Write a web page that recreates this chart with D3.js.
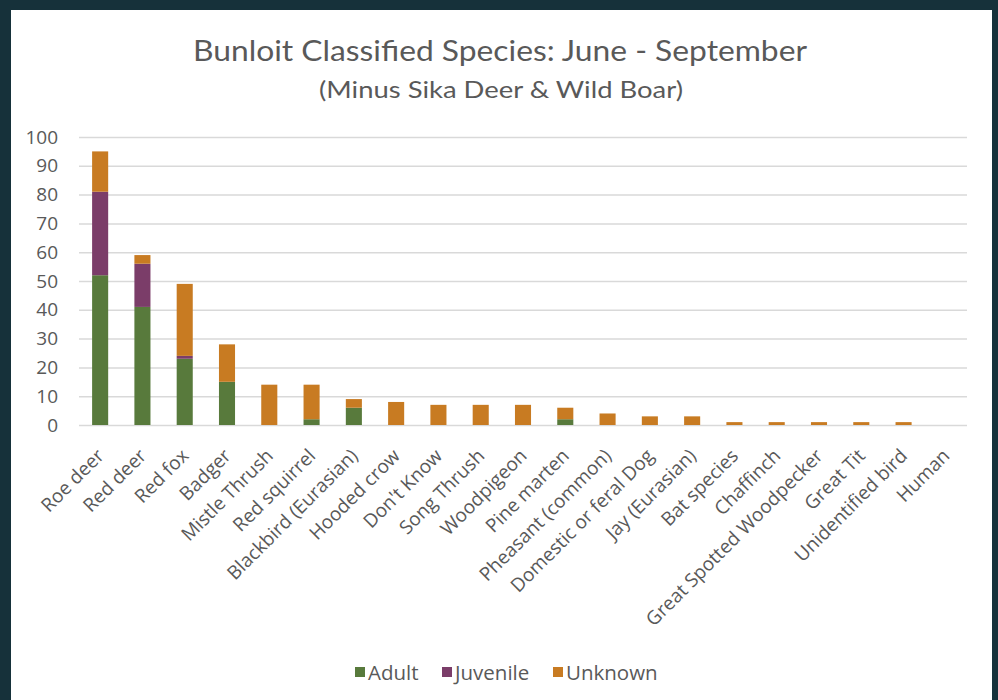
<!DOCTYPE html>
<html>
<head>
<meta charset="utf-8">
<script src="https://cdn.jsdelivr.net/npm/d3@7"></script>
<style>
  html, body { margin: 0; padding: 0; background: #16313a; }
  svg { display: block; }
</style>
</head>
<body>
<svg id="chart" width="998" height="700"></svg>
<script>
// Species recorded by the Bunloit camera traps, June - September
const categories = [
  "Roe deer", "Red deer", "Red fox", "Badger", "Mistle Thrush", "Red squirrel",
  "Blackbird (Eurasian)", "Hooded crow", "Don't Know", "Song Thrush", "Woodpigeon",
  "Pine marten", "Pheasant (common)", "Domestic or feral Dog", "Jay (Eurasian)",
  "Bat species", "Chaffinch", "Great Spotted Woodpecker", "Great Tit",
  "Unidentified bird", "Human"
];
const adult    = [52, 41, 23, 15, 0, 2, 6, 0, 0, 0, 0, 2, 0, 0, 0, 0, 0, 0, 0, 0, 0];
const juvenile = [29, 15, 1, 0, 0, 0, 0, 0, 0, 0, 0, 0, 0, 0, 0, 0, 0, 0, 0, 0, 0];
const unknown  = [14, 3, 25, 13, 14, 12, 3, 8, 7, 7, 7, 4, 4, 3, 3, 1, 1, 1, 1, 1, 0];
const seriesNames = ["Adult", "Juvenile", "Unknown"];
const seriesColors = ["#587a3c", "#7b3d69", "#c87b22"];
const yTicks = [0, 10, 20, 30, 40, 50, 60, 70, 80, 90, 100];

const svg = d3.select("#chart");
const W = 998, H = 700;
const textColor = "#595959";

// dark frame and white chart panel
svg.append("rect").attr("width", W).attr("height", H).attr("fill", "#16313a");
svg.append("rect").attr("x", 11).attr("y", 10).attr("width", 981).attr("height", 690).attr("fill", "#ffffff");

const plot = { left: 79, right: 967, top: 137, bottom: 425 };

const x = d3.scaleBand()
  .domain(categories)
  .range([plot.left, plot.right])
  .paddingInner(0.62)
  .paddingOuter(0.31);

const y = d3.scaleLinear()
  .domain([0, 100])
  .range([plot.bottom, plot.top]);

// titles
svg.append("text")
  .attr("x", 500).attr("y", 61)
  .attr("text-anchor", "middle")
  .attr("font-family", "Lato, 'Open Sans', sans-serif")
  .attr("font-size", 28)
  .attr("fill", textColor)
  .attr("textLength", 614)
  .attr("lengthAdjust", "spacingAndGlyphs")
  .text("Bunloit Classified Species: June - September");

svg.append("text")
  .attr("x", 501).attr("y", 98)
  .attr("text-anchor", "middle")
  .attr("font-family", "Lato, 'Open Sans', sans-serif")
  .attr("font-size", 24)
  .attr("fill", textColor)
  .attr("textLength", 364)
  .attr("lengthAdjust", "spacingAndGlyphs")
  .text("(Minus Sika Deer & Wild Boar)");

// horizontal gridlines
const yAxis = d3.axisLeft(y)
  .tickValues(yTicks)
  .tickSize(-(plot.right - plot.left))
  .tickPadding(21)
  .tickFormat(d3.format("d"));

const gy = svg.append("g")
  .attr("transform", `translate(${plot.left},0)`)
  .call(yAxis);
gy.select(".domain").remove();
gy.selectAll(".tick line").attr("stroke", "#d9d9d9").attr("stroke-width", 1.5);
gy.selectAll(".tick text")
  .attr("font-family", "'Open Sans', sans-serif")
  .attr("font-size", 19)
  .attr("fill", textColor);

// stacked bars
const rows = categories.map((c, i) => ({ category: c, Adult: adult[i], Juvenile: juvenile[i], Unknown: unknown[i] }));
const stacked = d3.stack().keys(seriesNames)(rows);

svg.append("g")
  .selectAll("g")
  .data(stacked)
  .join("g")
  .attr("fill", (d, i) => seriesColors[i])
  .selectAll("rect")
  .data(d => d)
  .join("rect")
  .attr("x", d => x(d.data.category))
  .attr("width", x.bandwidth())
  .attr("y", d => y(d[1]))
  .attr("height", d => y(d[0]) - y(d[1]));

// category labels, rotated
const xAxis = d3.axisBottom(x).tickSize(0).tickPadding(0);
const gx = svg.append("g")
  .attr("transform", `translate(0,${plot.bottom})`)
  .call(xAxis);
gx.select(".domain").remove();
gx.selectAll(".tick text")
  .attr("font-family", "'Open Sans', sans-serif")
  .attr("font-size", 19)
  .attr("fill", textColor)
  .attr("text-anchor", "end")
  .attr("dy", 0)
  .attr("y", 0)
  .attr("transform", "translate(5,32) rotate(-45)");

// legend
const legendItems = [
  { name: "Adult", color: seriesColors[0], x: 355 },
  { name: "Juvenile", color: seriesColors[1], x: 442 },
  { name: "Unknown", color: seriesColors[2], x: 553 }
];
const lg = svg.append("g");
legendItems.forEach(it => {
  lg.append("rect").attr("x", it.x).attr("y", 667).attr("width", 10).attr("height", 10).attr("fill", it.color);
  lg.append("text")
    .attr("x", it.x + 13).attr("y", 680)
    .attr("font-family", "'Open Sans', sans-serif")
    .attr("font-size", 20.5)
    .attr("fill", textColor)
    .text(it.name);
});
</script>
</body>
</html>
